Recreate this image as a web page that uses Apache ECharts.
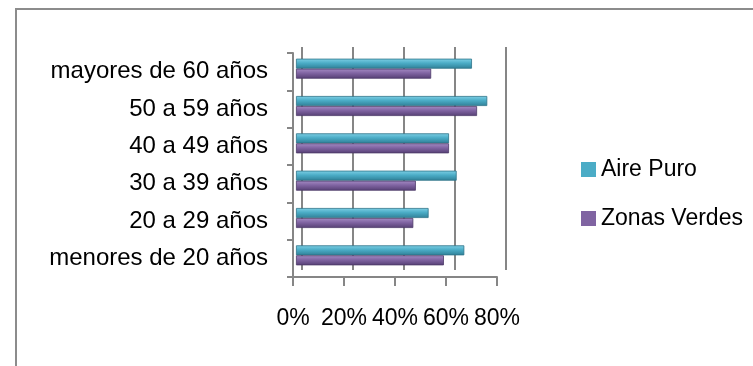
<!DOCTYPE html>
<html>
<head>
<meta charset="utf-8">
<script src="https://cdn.jsdelivr.net/npm/echarts@6/dist/echarts.min.js"></script>
<style>
html,body{margin:0;padding:0;background:#fff;}
#frame{position:absolute;left:15px;top:8px;width:900px;height:500px;border:2px solid #8c8c8c;box-sizing:border-box;}
#chart{position:absolute;left:0;top:0;width:753px;height:366px;}
</style>
</head>
<body>
<div id="frame"></div>
<div id="chart"></div>
<script>
const categories = ['menores de 20 años','20 a 29 años','30 a 39 años','40 a 49 años','50 a 59 años','mayores de 60 años'];
const aireValues = [66, 52, 63, 60, 75, 69];
const zonasValues = [58, 46, 47, 60, 71, 53];
const xTicks = [0, 20, 40, 60, 80];
const seriesNames = ['Aire Puro', 'Zonas Verdes'];

const FONT = '"Liberation Sans", Arial, sans-serif';
const GRAY = '#868686';

const chart = echarts.init(document.getElementById('chart'), null, {renderer:'canvas'});

function grad(top, mid, bottom){
  return new echarts.graphic.LinearGradient(0,0,0,1,[
    {offset:0, color:top},{offset:0.45, color:mid},{offset:1, color:bottom}
  ]);
}

chart.setOption({
  animation:false,
  backgroundColor:'transparent',
  legend:{
    orient:'vertical', left:581, top:158, padding:0,
    itemWidth:15, itemHeight:15, itemGap:26,
    icon:'rect',
    textStyle:{fontFamily:FONT, fontSize:23, color:'#000'},
    data:[
      {name:seriesNames[0], itemStyle:{color:'#4BACC6', borderWidth:0}},
      {name:seriesNames[1], itemStyle:{color:'#8064A2', borderWidth:0}}
    ]
  },
  grid:[
    {left:293, right:256, top:53, bottom:89},      // front
    {left:301.5, right:247, top:47, bottom:96},    // back wall
    {left:296, right:253, top:50, bottom:92}       // bars (mid depth)
  ],
  xAxis:[
    {gridIndex:0, type:'value', min:xTicks[0], max:xTicks[xTicks.length-1], interval:20,
     axisLine:{show:true, lineStyle:{color:GRAY, width:2}},
     axisTick:{show:true, inside:false, length:9, lineStyle:{color:GRAY, width:2}},
     splitLine:{show:false},
     axisLabel:{fontFamily:FONT, fontSize:23, color:'#000', margin:30, formatter:'{value}%'}},
    {gridIndex:1, type:'value', min:0, max:80, interval:20,
     axisLine:{show:false}, axisTick:{show:false}, axisLabel:{show:false},
     splitLine:{show:true, lineStyle:{color:GRAY, width:2}}},
    {gridIndex:2, type:'value', min:0, max:80, interval:20, show:false}
  ],
  yAxis:[
    {gridIndex:0, type:'category', data:categories,
     axisLine:{show:true, lineStyle:{color:GRAY, width:2}},
     axisTick:{show:true, length:6, lineStyle:{color:GRAY, width:2}},
     axisLabel:{fontFamily:FONT, fontSize:24, color:'#000', margin:25, padding:[6,0,0,0]}},
    {gridIndex:1, type:'category', data:categories, show:false},
    {gridIndex:2, type:'category', data:categories, show:false}
  ],
  series:[
    {name:seriesNames[0], type:'bar', xAxisIndex:2, yAxisIndex:2, data:aireValues,
     barWidth:10, barGap:'0%',
     itemStyle:{color:grad('#7fd0e6','#4BACC6','#2f7f96'), borderColor:'#2d7489', borderWidth:0.8}},
    {name:seriesNames[1], type:'bar', xAxisIndex:2, yAxisIndex:2, data:zonasValues,
     barWidth:10, barGap:'0%',
     itemStyle:{color:grad('#a58cc4','#8064A2','#553f73'), borderColor:'#4d3a68', borderWidth:0.8}}
  ]
});
</script>
</body>
</html>
